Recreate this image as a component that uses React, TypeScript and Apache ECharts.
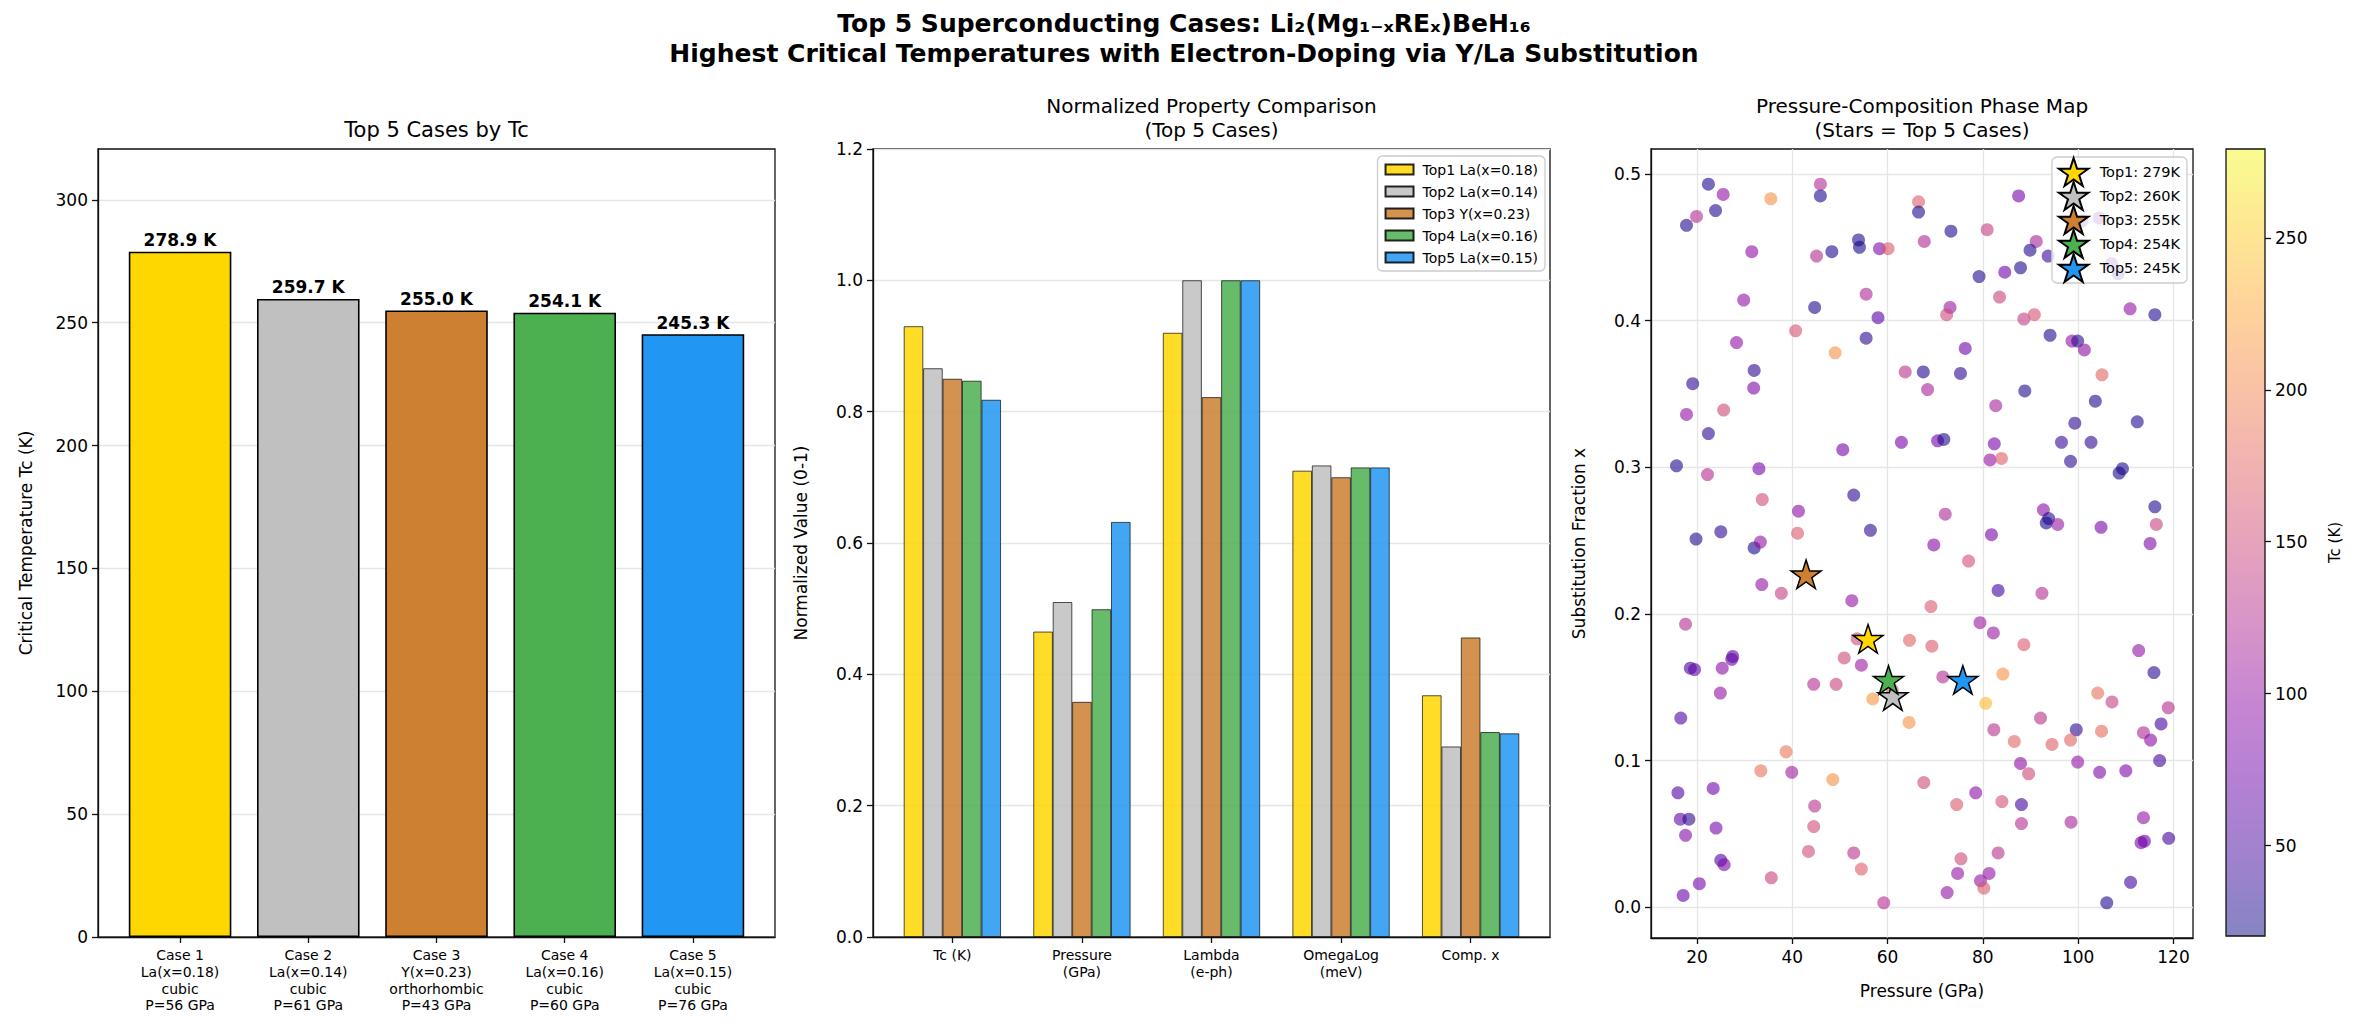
import React, { useEffect, useRef } from 'react';
import * as echarts from 'echarts';

const FONT = 'DejaVu Sans';

// ---------- Left panel: Tc of top 5 cases ----------
const caseLabels = [
  'Case 1\nLa(x=0.18)\ncubic\nP=56 GPa',
  'Case 2\nLa(x=0.14)\ncubic\nP=61 GPa',
  'Case 3\nY(x=0.23)\northorhombic\nP=43 GPa',
  'Case 4\nLa(x=0.16)\ncubic\nP=60 GPa',
  'Case 5\nLa(x=0.15)\ncubic\nP=76 GPa',
];
const tcTop = [278.9, 259.7, 255.0, 254.1, 245.3];
const caseColors = ['#FFD700', '#C0C0C0', '#CD7F32', '#4CAF50', '#2196F3'];
const leftYTicks = [0, 50, 100, 150, 200, 250, 300];

// ---------- Middle panel: normalized properties ----------
const propLabels = ['Tc (K)', 'Pressure\n(GPa)', 'Lambda\n(e-ph)', 'OmegaLog\n(meV)', 'Comp. x'];
const topNames = ['Top1 La(x=0.18)', 'Top2 La(x=0.14)', 'Top3 Y(x=0.23)', 'Top4 La(x=0.16)', 'Top5 La(x=0.15)'];
const normTop1 = [0.930, 0.465, 0.920, 0.710, 0.368];
const normTop2 = [0.866, 0.510, 1.000, 0.718, 0.290];
const normTop3 = [0.850, 0.358, 0.822, 0.700, 0.456];
const normTop4 = [0.847, 0.499, 1.000, 0.715, 0.312];
const normTop5 = [0.818, 0.632, 1.000, 0.715, 0.310];
const midYTicks = [0, 0.2, 0.4, 0.6, 0.8, 1.0, 1.2];

// ---------- Right panel: pressure-composition map ----------
// [pressure GPa, substitution fraction x, Tc K]
const pointsUpperLeft = [
  [22.4, 0.493, 30], [25.5, 0.486, 98], [19.9, 0.471, 124], [17.8, 0.465, 30], [23.9, 0.475, 30],
  [35.5, 0.483, 210], [45.9, 0.493, 124], [45.9, 0.485, 30], [31.5, 0.447, 98], [45.1, 0.444, 124],
  [48.3, 0.447, 30], [53.9, 0.455, 30], [54.1, 0.450, 25], [58.3, 0.449, 85], [60.1, 0.449, 165],
  [29.8, 0.414, 98], [55.5, 0.418, 120], [44.7, 0.409, 30], [58.0, 0.402, 60], [40.7, 0.393, 160],
  [55.5, 0.388, 35], [49.0, 0.378, 210], [28.3, 0.385, 98], [32.0, 0.366, 35], [31.9, 0.354, 85],
  [19.1, 0.357, 35], [17.8, 0.336, 98], [25.6, 0.339, 150], [22.4, 0.323, 35], [15.7, 0.301, 30],
  [22.2, 0.295, 124], [33.0, 0.299, 80], [50.6, 0.312, 80], [33.7, 0.278, 155], [41.3, 0.270, 95],
  [52.9, 0.281, 35], [19.8, 0.251, 30], [25.0, 0.256, 35], [41.1, 0.255, 165], [56.4, 0.257, 35],
  [32.0, 0.245, 25], [33.3, 0.249, 100],
];
const pointsUpperRight = [
  [66.5, 0.481, 170], [66.5, 0.474, 30], [87.5, 0.485, 80], [67.7, 0.454, 120], [73.3, 0.461, 30],
  [80.9, 0.462, 140], [91.2, 0.454, 115], [89.9, 0.448, 30], [93.7, 0.444, 40], [100.8, 0.468, 60],
  [104.4, 0.470, 60], [107.0, 0.439, 60], [108.4, 0.432, 35], [79.2, 0.430, 30], [84.6, 0.433, 75],
  [87.9, 0.436, 30], [83.5, 0.416, 145], [73.1, 0.409, 105], [72.4, 0.404, 150], [88.6, 0.401, 140],
  [90.8, 0.404, 160], [110.9, 0.408, 100], [116.1, 0.404, 30], [94.1, 0.390, 30], [98.7, 0.386, 100],
  [99.9, 0.386, 35], [101.3, 0.380, 95], [76.3, 0.381, 75], [63.7, 0.365, 130], [67.5, 0.365, 30],
  [75.3, 0.364, 35], [68.4, 0.353, 115], [105.0, 0.363, 175], [88.8, 0.352, 30], [82.7, 0.342, 115],
  [103.6, 0.345, 30], [99.3, 0.330, 35], [112.4, 0.331, 30], [62.9, 0.317, 80], [70.5, 0.318, 75],
  [71.8, 0.319, 30], [82.4, 0.316, 80], [81.5, 0.305, 100], [83.9, 0.306, 170], [96.5, 0.317, 40],
  [102.7, 0.317, 35], [98.4, 0.304, 35], [109.3, 0.299, 30], [108.6, 0.296, 25], [72.1, 0.268, 120],
  [81.8, 0.254, 80], [69.7, 0.247, 90], [92.7, 0.271, 95], [93.8, 0.265, 30], [93.3, 0.262, 25],
  [95.7, 0.261, 105], [104.8, 0.259, 80], [116.1, 0.273, 30], [116.4, 0.261, 145], [115.1, 0.248, 85],
];
const pointsLowerLeft = [
  [33.6, 0.220, 100], [37.7, 0.214, 140], [52.5, 0.209, 100], [17.6, 0.193, 125], [18.6, 0.163, 45],
  [19.5, 0.162, 65], [27.5, 0.171, 60], [27.3, 0.169, 70], [25.3, 0.163, 95], [24.9, 0.146, 100],
  [16.6, 0.129, 55], [53.6, 0.183, 150], [50.9, 0.170, 150], [54.5, 0.165, 105], [44.5, 0.152, 125],
  [49.2, 0.152, 145], [56.9, 0.142, 215], [61.0, 0.148, 170], [38.7, 0.106, 190], [33.4, 0.093, 185],
  [39.9, 0.092, 110], [48.5, 0.087, 210], [16.0, 0.078, 55], [23.4, 0.081, 75], [16.5, 0.060, 65],
  [18.3, 0.060, 35], [17.6, 0.049, 90], [24.0, 0.054, 80], [44.7, 0.069, 130], [44.5, 0.055, 155],
  [25.0, 0.032, 50], [25.7, 0.029, 85], [43.4, 0.038, 155], [52.9, 0.037, 130], [54.5, 0.026, 170],
  [35.6, 0.020, 145], [20.5, 0.016, 80], [17.1, 0.008, 70], [59.2, 0.003, 125],
];
const pointsLowerRight = [
  [77.0, 0.236, 155], [83.2, 0.216, 45], [92.4, 0.214, 125], [69.1, 0.205, 165], [79.4, 0.194, 105],
  [82.2, 0.187, 105], [64.6, 0.182, 175], [69.3, 0.178, 165], [88.6, 0.179, 165], [112.7, 0.175, 100],
  [115.9, 0.160, 35], [71.6, 0.157, 125], [84.2, 0.159, 210], [80.6, 0.139, 240], [64.5, 0.126, 210],
  [104.1, 0.146, 185], [107.1, 0.140, 140], [118.9, 0.136, 125], [92.1, 0.129, 130], [82.3, 0.121, 130],
  [99.6, 0.121, 35], [104.9, 0.120, 180], [113.7, 0.119, 120], [117.4, 0.125, 45], [115.2, 0.114, 95],
  [86.6, 0.113, 175], [94.5, 0.111, 170], [98.4, 0.114, 175], [87.9, 0.098, 95], [89.6, 0.091, 150],
  [99.9, 0.099, 100], [104.5, 0.092, 85], [110.0, 0.093, 85], [117.1, 0.100, 45], [67.6, 0.085, 150],
  [74.5, 0.070, 165], [78.5, 0.078, 95], [84.0, 0.072, 160], [88.1, 0.070, 45], [88.1, 0.057, 125],
  [98.5, 0.058, 115], [113.7, 0.061, 100], [113.2, 0.044, 80], [113.9, 0.045, 70], [119.0, 0.047, 45],
  [75.4, 0.033, 150], [83.2, 0.037, 130], [74.7, 0.023, 100], [81.3, 0.023, 100], [79.5, 0.018, 100],
  [80.2, 0.013, 165], [72.5, 0.010, 100], [111.0, 0.017, 45], [106.0, 0.003, 30],
];
const starNames = ['Top1: 279K', 'Top2: 260K', 'Top3: 255K', 'Top4: 254K', 'Top5: 245K'];
const starPressure = [55.9, 61.1, 42.9, 60.2, 75.8];
const starFraction = [0.183, 0.144, 0.227, 0.155, 0.155];
const rightXTicks = [20, 40, 60, 80, 100, 120];
const rightYTicks = [0, 0.1, 0.2, 0.3, 0.4, 0.5];
const cbarTicks = [50, 100, 150, 200, 250];
const TC_MIN = 20.3;
const TC_MAX = 279.2;

// ---------- styling ----------
const PLASMA = ['#0d0887', '#41049d', '#6a00a8', '#8f0da4', '#b12a90', '#cc4778', '#e16462', '#f2844b', '#fca636', '#fcce25', '#f0f921'];
const fade = (hex: string, a: number) => {
  const n = parseInt(hex.slice(1), 16);
  const c = [(n >> 16) & 255, (n >> 8) & 255, n & 255].map((v) => Math.round(255 - a * (255 - v)));
  return `rgb(${c[0]},${c[1]},${c[2]})`;
};
const PLASMA_FADED = PLASMA.map((c) => fade(c, 0.5));

const starPath = (() => {
  const pts: string[] = [];
  for (let k = 0; k < 10; k++) {
    const ang = -Math.PI / 2 + (k * Math.PI) / 5;
    const r = k % 2 === 0 ? 50 : 19.1;
    pts.push(`${(50 + r * Math.cos(ang)).toFixed(2)},${(50 + r * Math.sin(ang)).toFixed(2)}`);
  }
  return 'path://M' + pts.join('L') + 'Z';
})();

const L = { left: 98, top: 149, width: 677, height: 788 };
const M = { left: 873, top: 149, width: 677, height: 788 };
const R = { left: 1651, top: 149, width: 542, height: 789 };
const C = { left: 2226, top: 149, width: 39, height: 787 };
const LEFT_X = [-0.64, 4.64];
const MID_X = [-0.6125, 4.6125];

const AX = '#111';
const axisLine = { show: true, onZero: false, lineStyle: { color: AX, width: 1.3 } };
const axisTick = (vals: number[]) => ({ show: true, length: 6, customValues: vals, lineStyle: { color: AX, width: 1.3 } });
const gridLine = { show: true, lineStyle: { color: '#e6e6e6', width: 1.3 } };
const nameStyle = { fontSize: 17, color: '#000', fontFamily: FONT };

function buildOption(): any {
  const allPoints = [...pointsUpperLeft, ...pointsUpperRight, ...pointsLowerLeft, ...pointsLowerRight];
  const normRows = [normTop1, normTop2, normTop3, normTop4, normTop5];
  const leftBarW = (0.8 * L.width) / (LEFT_X[1] - LEFT_X[0]);
  const midBarW = (0.15 * M.width) / (MID_X[1] - MID_X[0]);

  const series: any[] = [];
  series.push({
    type: 'bar',
    xAxisIndex: 0,
    yAxisIndex: 0,
    barWidth: leftBarW,
    data: tcTop.map((v, i) => ({ value: [i, v], itemStyle: { color: caseColors[i] } })),
    itemStyle: { borderColor: '#000', borderWidth: 1.6 },
    label: {
      show: true,
      position: 'top',
      distance: 3,
      formatter: (p: any) => `${p.value[1].toFixed(1)} K`,
      fontSize: 17,
      fontWeight: 'bold',
      color: '#000',
      fontFamily: FONT,
    },
  });
  topNames.forEach((name, i) => {
    series.push({
      type: 'bar',
      name,
      xAxisIndex: 1,
      yAxisIndex: 1,
      barWidth: midBarW,
      barGap: '0%',
      data: normRows[i].map((v, j) => [j, v]),
      itemStyle: { color: caseColors[i], opacity: 0.85, borderColor: '#000', borderWidth: 0.8 },
    });
  });
  series.push({
    type: 'scatter',
    xAxisIndex: 2,
    yAxisIndex: 2,
    symbolSize: 13,
    data: allPoints,
    itemStyle: { opacity: 0.6 },
    z: 2,
  });
  starNames.forEach((name, i) => {
    series.push({
      type: 'scatter',
      name,
      xAxisIndex: 2,
      yAxisIndex: 2,
      symbol: starPath,
      symbolSize: 30,
      symbolKeepAspect: true,
      data: [[starPressure[i], starFraction[i]]],
      itemStyle: { color: caseColors[i], borderColor: '#000', borderWidth: 1.5, opacity: 1 },
      z: 5,
    });
  });
  // carrier for the colorbar
  series.push({ type: 'scatter', xAxisIndex: 3, yAxisIndex: 3, data: [], silent: true });

  return {
    animation: false,
    backgroundColor: '#ffffff',
    textStyle: { fontFamily: FONT },
    title: [
      {
        text: 'Top 5 Superconducting Cases: Li\u2082(Mg\u2081\u208B\u2093RE\u2093)BeH\u2081\u2086\nHighest Critical Temperatures with Electron-Doping via Y/La Substitution',
        left: 1184,
        top: 8,
        textAlign: 'center',
        padding: 0,
        textStyle: { fontSize: 25, fontWeight: 'bold', lineHeight: 30, color: '#000', fontFamily: FONT },
      },
      {
        text: 'Top 5 Cases by Tc',
        left: L.left + L.width / 2,
        top: 118,
        textAlign: 'center',
        padding: 0,
        textStyle: { fontSize: 21, fontWeight: 'normal', lineHeight: 24, color: '#000', fontFamily: FONT },
      },
      {
        text: 'Normalized Property Comparison\n(Top 5 Cases)',
        left: M.left + M.width / 2,
        top: 94,
        textAlign: 'center',
        padding: 0,
        textStyle: { fontSize: 20, fontWeight: 'normal', lineHeight: 24, color: '#000', fontFamily: FONT },
      },
      {
        text: 'Pressure-Composition Phase Map\n(Stars = Top 5 Cases)',
        left: R.left + R.width / 2,
        top: 94,
        textAlign: 'center',
        padding: 0,
        textStyle: { fontSize: 20, fontWeight: 'normal', lineHeight: 24, color: '#000', fontFamily: FONT },
      },
    ],
    grid: [
      { ...L, show: true, borderColor: AX, borderWidth: 1.3, containLabel: false },
      { ...M, show: true, borderColor: AX, borderWidth: 1.3, containLabel: false },
      { ...R, show: true, borderColor: AX, borderWidth: 1.3, containLabel: false },
      { ...C, show: false, containLabel: false },
    ],
    xAxis: [
      {
        type: 'value',
        gridIndex: 0,
        min: LEFT_X[0],
        max: LEFT_X[1],
        axisLine,
        axisTick: axisTick([0, 1, 2, 3, 4]),
        axisLabel: {
          customValues: [0, 1, 2, 3, 4],
          formatter: (v: number) => caseLabels[Math.round(v)] ?? '',
          fontSize: 14,
          lineHeight: 16.7,
          color: '#000',
          margin: 10,
          fontFamily: FONT,
        },
        splitLine: { show: false },
      },
      {
        type: 'value',
        gridIndex: 1,
        min: MID_X[0],
        max: MID_X[1],
        axisLine,
        axisTick: axisTick([0, 1, 2, 3, 4]),
        axisLabel: {
          customValues: [0, 1, 2, 3, 4],
          formatter: (v: number) => propLabels[Math.round(v)] ?? '',
          fontSize: 14,
          lineHeight: 16.7,
          color: '#000',
          margin: 10,
          fontFamily: FONT,
        },
        splitLine: { show: false },
      },
      {
        type: 'value',
        gridIndex: 2,
        min: 10.35,
        max: 124.1,
        name: 'Pressure (GPa)',
        nameLocation: 'middle',
        nameGap: 44,
        nameTextStyle: nameStyle,
        axisLine,
        axisTick: axisTick(rightXTicks),
        axisLabel: { customValues: rightXTicks, fontSize: 17, color: '#000', margin: 10, fontFamily: FONT },
        splitLine: gridLine,
      },
      { type: 'value', gridIndex: 3, show: false, min: 0, max: 1 },
    ],
    yAxis: [
      {
        type: 'value',
        gridIndex: 0,
        min: 0,
        max: 320.7,
        name: 'Critical Temperature Tc (K)',
        nameLocation: 'middle',
        nameGap: 64,
        nameTextStyle: nameStyle,
        axisLine,
        axisTick: axisTick(leftYTicks),
        axisLabel: { customValues: leftYTicks, fontSize: 17, color: '#000', margin: 10, fontFamily: FONT },
        splitLine: gridLine,
      },
      {
        type: 'value',
        gridIndex: 1,
        min: 0,
        max: 1.2,
        name: 'Normalized Value (0-1)',
        nameLocation: 'middle',
        nameGap: 64,
        nameTextStyle: nameStyle,
        axisLine,
        axisTick: axisTick(midYTicks),
        axisLabel: {
          customValues: midYTicks,
          formatter: (v: number) => v.toFixed(1),
          fontSize: 17,
          color: '#000',
          margin: 10,
          fontFamily: FONT,
        },
        splitLine: gridLine,
      },
      {
        type: 'value',
        gridIndex: 2,
        min: -0.021,
        max: 0.517,
        name: 'Substitution Fraction x',
        nameLocation: 'middle',
        nameGap: 64,
        nameTextStyle: nameStyle,
        axisLine,
        axisTick: axisTick(rightYTicks),
        axisLabel: {
          customValues: rightYTicks,
          formatter: (v: number) => v.toFixed(1),
          fontSize: 17,
          color: '#000',
          margin: 10,
          fontFamily: FONT,
        },
        splitLine: gridLine,
      },
      {
        type: 'value',
        gridIndex: 3,
        position: 'right',
        min: TC_MIN,
        max: TC_MAX,
        name: 'Tc (K)',
        nameLocation: 'middle',
        nameRotate: 90,
        nameGap: 62,
        nameTextStyle: { fontSize: 15, color: '#000', fontFamily: FONT },
        axisLine: { show: false, onZero: false },
        axisTick: axisTick(cbarTicks),
        axisLabel: { customValues: cbarTicks, fontSize: 17, color: '#000', margin: 10, fontFamily: FONT },
        splitLine: { show: false },
      },
    ],
    visualMap: [
      {
        type: 'continuous',
        show: false,
        seriesIndex: 6,
        dimension: 2,
        min: TC_MIN,
        max: TC_MAX,
        inRange: { color: PLASMA },
      },
      {
        type: 'continuous',
        show: true,
        seriesIndex: 12,
        min: TC_MIN,
        max: TC_MAX,
        calculable: false,
        hoverLink: false,
        left: C.left,
        top: C.top,
        itemWidth: C.width,
        itemHeight: C.height,
        padding: 0,
        inRange: { color: PLASMA_FADED },
      },
    ],
    legend: [
      {
        data: topNames,
        orient: 'vertical',
        right: 2363 - 1545,
        top: 156,
        icon: 'rect',
        itemWidth: 28,
        itemHeight: 10,
        itemGap: 7,
        padding: [6, 7, 6, 7],
        backgroundColor: 'rgba(255,255,255,0.8)',
        borderColor: '#cccccc',
        borderWidth: 1.3,
        borderRadius: 5,
        selectedMode: false,
        textStyle: { fontSize: 14, lineHeight: 15, color: '#000', fontFamily: FONT, padding: [0, 0, 0, 4] },
      },
      {
        data: starNames,
        orient: 'vertical',
        right: 2363 - 2187,
        top: 157,
        itemWidth: 30,
        itemHeight: 28,
        itemGap: -6,
        padding: [0, 7, 0, 6],
        backgroundColor: 'rgba(255,255,255,0.8)',
        borderColor: '#cccccc',
        borderWidth: 1.3,
        borderRadius: 5,
        selectedMode: false,
        textStyle: { fontSize: 14.5, lineHeight: 16, color: '#000', fontFamily: FONT, padding: [0, 0, 0, 6] },
      },
    ],
    graphic: [
      {
        type: 'rect',
        z: 100,
        shape: { x: C.left, y: C.top, width: C.width, height: C.height },
        style: { fill: 'none', stroke: AX, lineWidth: 1.3 },
        silent: true,
      },
    ],
    series,
  };
}

export default function App() {
  const ref = useRef<HTMLDivElement>(null);
  useEffect(() => {
    if (!ref.current) return;
    const chart = echarts.init(ref.current, null, { renderer: 'svg', width: 2363, height: 1036 });
    chart.setOption(buildOption());
    return () => chart.dispose();
  }, []);
  return (
    <div
      ref={ref}
      style={{ position: 'fixed', left: 0, top: 0, width: 2363, height: 1036, background: '#ffffff' }}
    />
  );
}
